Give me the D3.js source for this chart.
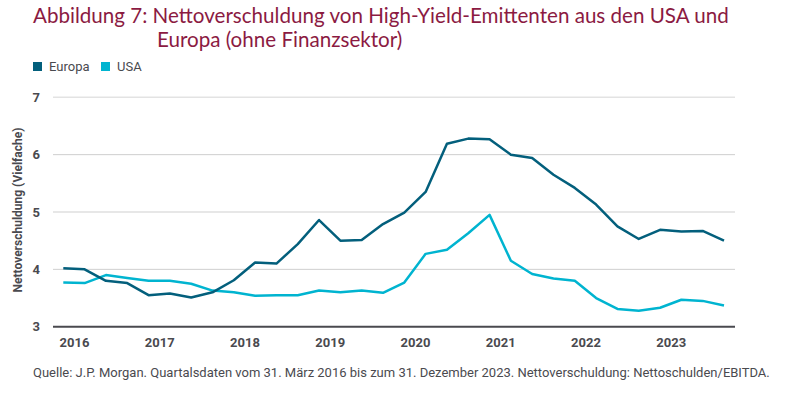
<!DOCTYPE html>
<html>
<head>
<meta charset="utf-8">
<script src="https://cdn.jsdelivr.net/npm/d3@7"></script>
<style>
  body { margin: 0; background: #fff; }
  svg { display: block; }
</style>
</head>
<body>
<div id="chart"></div>
<script>
// quarterly data, Q1 2016 .. Q4 2023
var years = ["2016", "2017", "2018", "2019", "2020", "2021", "2022", "2023"];
var europa = [4.02, 4.00, 3.80, 3.76, 3.55, 3.58, 3.51, 3.60,
              3.81, 4.12, 4.10, 4.44, 4.86, 4.50, 4.51, 4.79,
              4.99, 5.35, 6.19, 6.28, 6.27, 6.00, 5.94, 5.65,
              5.42, 5.13, 4.75, 4.53, 4.69, 4.66, 4.67, 4.50];
var usa = [3.77, 3.76, 3.90, 3.85, 3.80, 3.80, 3.75, 3.63,
           3.60, 3.54, 3.55, 3.55, 3.63, 3.60, 3.63, 3.59,
           3.77, 4.27, 4.34, 4.63, 4.95, 4.15, 3.92, 3.84,
           3.80, 3.50, 3.31, 3.28, 3.33, 3.47, 3.45, 3.37];
var yTicks = [3, 4, 5, 6, 7];

var W = 800, H = 395;
var colEuropa = "#035f7c", colUSA = "#00b4d0";
var title = "#8b1a42", textCol = "#4a4a4f";

var svg = d3.select("#chart").append("svg")
  .attr("width", W).attr("height", H);

// Set the ranges
var x = d3.scaleLinear().domain([0, europa.length - 1]).range([63.3, 724]);
var y = d3.scaleLinear().domain([3, 7]).range([326.7, 97.3]);
var left = 53, right = 735;

// Title
var t = svg.append("text")
  .attr("fill", title)
  .style("font-family", "Lato, 'Open Sans', sans-serif")
  .style("font-size", "20.6px");
t.append("tspan").attr("x", 33).attr("y", 23)
  .text("Abbildung 7: Nettoverschuldung von High-Yield-Emittenten aus den USA und");
t.append("tspan").attr("x", 157).attr("y", 47)
  .text("Europa (ohne Finanzsektor)");

// Legend
var legend = [["Europa", colEuropa, 33], ["USA", colUSA, 101]];
legend.forEach(function(d) {
  svg.append("rect").attr("x", d[2]).attr("y", 62).attr("width", 9).attr("height", 9)
    .attr("fill", d[1]);
  svg.append("text").attr("x", d[2] + 16).attr("y", 71)
    .attr("fill", textCol)
    .style("font-family", "'Liberation Sans Narrow', 'Roboto', sans-serif")
    .style("font-size", "13px")
    .text(d[0]);
});

// Gridlines
svg.append("g").selectAll("line")
  .data(yTicks.filter(function(v) { return v > 3; }))
  .enter().append("line")
    .attr("x1", left).attr("x2", right)
    .attr("y1", function(d) { return y(d); })
    .attr("y2", function(d) { return y(d); })
    .attr("stroke", function(d) { return d === 7 ? "#e3e3e3" : "#cfcfcf"; })
    .attr("stroke-width", function(d) { return d === 7 ? 1.5 : 1; });

// Y axis labels
var yAxis = d3.axisLeft(y).tickValues(yTicks).tickSize(0).tickPadding(0)
  .tickFormat(d3.format("d"));
var gy = svg.append("g").attr("transform", "translate(40,0)").call(yAxis);
gy.select(".domain").remove();
gy.selectAll("text")
  .attr("fill", textCol)
  .style("font-family", "'Liberation Sans Narrow', 'Roboto', sans-serif")
  .style("font-size", "13px").style("font-weight", "bold");

svg.append("text")
  .attr("transform", "translate(22,210) rotate(-90)")
  .attr("text-anchor", "middle")
  .attr("fill", textCol)
  .style("font-family", "'Liberation Sans Narrow', 'Roboto', sans-serif")
  .style("font-size", "12px").style("font-weight", "bold")
  .text("Nettoverschuldung (Vielfache)");

// X axis labels (one per year)
var xAxis = d3.axisBottom(x)
  .tickValues(years.map(function(d, i) { return i * 4 + 0.5; }))
  .tickSize(0).tickPadding(0)
  .tickFormat(function(d, i) { return years[i]; });
var gx = svg.append("g").attr("transform", "translate(0,338)").call(xAxis);
gx.select(".domain").remove();
gx.selectAll("text")
  .attr("fill", textCol)
  .style("font-family", "'Liberation Sans Narrow', 'Roboto', sans-serif")
  .style("font-size", "13px").style("font-weight", "bold");

// Lines
var line = d3.line()
  .x(function(d, i) { return x(i); })
  .y(function(d) { return y(d); });

svg.append("path").attr("d", line(usa))
  .attr("fill", "none").attr("stroke", colUSA).attr("stroke-width", 2.5)
  .attr("stroke-linejoin", "round");
svg.append("path").attr("d", line(europa))
  .attr("fill", "none").attr("stroke", colEuropa).attr("stroke-width", 2.5)
  .attr("stroke-linejoin", "round");

// Baseline
svg.append("line")
  .attr("x1", left).attr("x2", right)
  .attr("y1", y(3)).attr("y2", y(3))
  .attr("stroke", "#4a4a4f").attr("stroke-width", 2);

// Source note
svg.append("text").attr("x", 33).attr("y", 377)
  .attr("fill", textCol)
  .style("font-family", "'Liberation Sans Narrow', 'Roboto', sans-serif")
  .style("font-size", "13px")
  .text("Quelle: J.P. Morgan. Quartalsdaten vom 31. März 2016 bis zum 31. Dezember 2023. Nettoverschuldung: Nettoschulden/EBITDA.");
</script>
</body>
</html>
